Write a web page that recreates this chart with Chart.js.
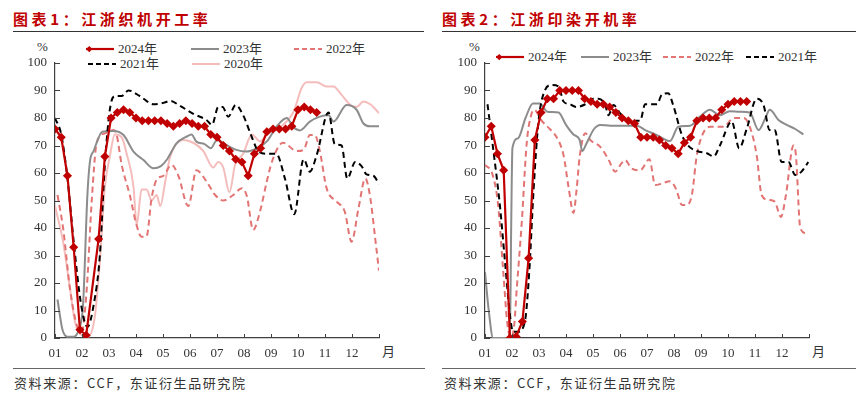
<!DOCTYPE html>
<html>
<head>
<meta charset="utf-8">
<script src="https://cdn.jsdelivr.net/npm/chart.js@4.4.0/dist/chart.umd.min.js"></script>
<style>
  body { margin: 0; width: 866px; height: 393px; background: #fff; position: relative; overflow: hidden; }
  .title { position: absolute; top: 8px; font: bold 15px "Noto Sans CJK SC", sans-serif; color: #c00000; letter-spacing: 3.6px; white-space: nowrap; }
  .rule { position: absolute; height: 0; border-top: 1.5px solid #333; }
  .src { position: absolute; top: 373px; font: 13px "Noto Sans CJK SC", sans-serif; color: #333; letter-spacing: 1.6px; white-space: nowrap; }
  .lab { position: absolute; font: 13px "Liberation Serif", "Noto Sans CJK SC", serif; color: #333; white-space: nowrap; line-height: 14px; }
  canvas { position: absolute; top: 40px; }
</style>
</head>
<body>
<div class="title" style="left:13px">图表1：江浙织机开工率</div>
<div class="title" style="left:442px">图表2：江浙印染开机率</div>
<div class="rule" style="left:13px; width:411px; top:31px"></div>
<div class="rule" style="left:442px; width:414px; top:31px"></div>
<div class="rule" style="left:13px; width:412px; top:368px; border-color:#666"></div>
<div class="rule" style="left:442px; width:414px; top:368px; border-color:#666"></div>
<div class="src" style="left:14px">资料来源：CCF，东证衍生品研究院</div>
<div class="src" style="left:444px">资料来源：CCF，东证衍生品研究院</div>
<div class="lab" style="left:37px; top:40px">%</div>
<div class="lab" style="left:469px; top:40px">%</div>
<div class="lab" style="left:382px; top:345px">月</div>
<div class="lab" style="left:812px; top:345px">月</div>
<div id="legends"></div>

<canvas id="loomChart" width="433" height="330" style="left:0; width:433px; height:330px"></canvas>
<canvas id="dyeChart" width="433" height="330" style="left:433px; width:433px; height:330px"></canvas>

<script>
// x axis: months, data stored by week number (52 weeks per year)
const monthLabels = ['01', '02', '03', '04', '05', '06', '07', '08', '09', '10', '11', '12'];
const seriesNames = ['2024年', '2023年', '2022年', '2021年', '2020年'];

// 图表1 江浙织机开工率 (%), 2024 is weekly, null = no data that week
const loom2024 = [76, 73, 59, 33, 3, 1, null, 36, 66, 80, 82, 83, 82, 80, 79, 79, 79, 79, 78, 77, 78, 79, 78, 77, 77,
  74, 73, 70, 68, 65, 64, 59, 67, 69, 75, 76, 76, 76, 77, 83, 84, 83, 82];
const loom2023 = [[0.4, 14], [1.2, 3], [2, 0.5], [3, 0.5], [3.8, 3], [4.5, 12], [5.2, 52], [5.6, 64], [6.2, 68], [7.6, 75],
  [9.4, 75.3], [11, 73.8], [12.6, 67.8], [14.2, 64.7], [15.8, 61.7], [17, 62.5], [18, 65], [19.5, 70.8], [21.1, 73.2],
  [21.9, 74], [22.7, 71.4], [24, 70.5], [25, 69], [26, 72], [27.5, 70.2], [29.1, 68.4], [30.7, 67.8], [32.4, 69],
  [34, 71.5], [35.6, 77], [37.2, 80], [38.2, 76.8], [39.3, 75.5], [40.9, 78.7], [42.5, 80.5], [43.9, 81], [44.7, 78.7],
  [46.8, 84.7], [48.4, 83], [49.5, 78], [50.5, 77], [52, 77]];
const loom2022 = [[0.4, 52], [1.3, 40], [2.4, 18], [3.5, 4.7], [4.3, 2.3], [5.1, 18], [5.9, 50], [6.7, 71], [8, 74.4],
  [9.4, 75.6], [9.9, 73.8], [10.7, 63], [12, 52], [13.1, 41], [13.9, 36.8], [14.7, 37], [15.5, 50.8], [16.3, 57.5],
  [17.4, 59], [18.7, 63], [19.8, 59], [21.4, 48], [22.7, 61], [24.3, 57], [25.7, 52], [27, 50], [28.6, 52], [30, 54.5],
  [30.8, 51.5], [31.8, 39.3], [32.9, 46], [34, 57], [34.8, 64], [36.6, 71], [38.8, 68], [39.9, 68.4], [40.9, 73.8],
  [41.7, 73.8], [42.5, 68], [43.6, 54.4], [45.2, 49.6], [46.5, 46], [47.6, 35], [48.7, 47], [49.8, 58], [50.6, 51],
  [51.4, 36], [52, 24.5]];
const loom2021 = [[0, 80], [1, 74], [2, 58], [3, 35], [4.2, 12], [5.2, 4], [6.2, 12], [7.2, 30], [8, 63], [8.8, 83],
  [9.6, 88], [10.7, 88], [11.8, 90], [13.6, 88], [15.8, 85], [17.4, 85.5], [18.5, 86.2], [20, 84.5], [22.2, 81.5],
  [24.3, 79.3], [25.2, 77.5], [26.2, 84], [26.9, 84], [27.8, 80.5], [29, 84.7], [30.2, 81], [31.6, 73], [32.6, 68],
  [34, 67], [35.5, 67], [36.9, 58], [38.4, 45], [39.9, 65], [40.9, 60.5], [42, 66.5], [43.9, 82], [44.9, 70.5],
  [46, 70], [46.9, 58], [48.2, 64], [49.2, 62.5], [50, 59.5], [51.1, 59], [52, 56]];
const loom2020 = [[0, 48], [1.3, 35], [2.4, 18], [3.2, 6], [4.3, 1], [5.3, 0.5], [6.4, 8], [7.2, 28], [8, 55], [8.8, 66],
  [9.6, 74], [10.7, 73], [11.5, 67], [12.6, 55], [13.1, 41], [13.9, 54], [14.7, 54], [15.5, 50], [16.3, 52], [16.9, 48],
  [17.7, 57], [18.5, 66], [20.6, 72], [22.2, 71], [23.8, 68], [25.4, 62], [26.2, 64], [27, 62], [28, 53], [28.9, 63],
  [30.2, 67], [31.6, 74], [32.9, 71.5], [34, 74], [35, 75.6], [36.6, 77.5], [38.3, 82.3], [39.6, 91], [40.4, 93],
  [42, 93], [43.6, 91.5], [44.7, 91.5], [46, 88.4], [47.4, 84.7], [48.4, 84], [49.5, 86], [50.6, 85], [51.5, 83],
  [52, 81.7]];

// 图表2 江浙印染开机率 (%)
const dye2024 = [73, 77, 67, 61, 0, 0.5, 6, 29, 72, 82, 87, 87, 90, 90, 90, 90, 87, 86, 85, 85, 84, 82, 80, 79, 78,
  73, 73, 73, 72, 70, 69, 67, 71, 73, 79, 80, 80, 80, 83, 85, 86, 86, 86];
const dye2023 = [[0, 24], [0.6, 10], [1.3, 0], [2.5, 0], [4, 0], [4.2, 40], [4.4, 69], [5.3, 72.6], [6.5, 80],
  [7.7, 85.3], [8.8, 85.3], [10, 82.3], [11.8, 82], [13, 77.5], [14.2, 74], [15.2, 72], [15.6, 68], [16.3, 70.8],
  [17.5, 76], [18.5, 77.5], [20.1, 77.2], [24.4, 77.2], [25.7, 75.6], [27.6, 73.8], [29.7, 71.6], [31, 76.8],
  [32.9, 77.2], [34.5, 80.5], [36.1, 83], [37.7, 81], [39.3, 82.5], [40.9, 82.3], [42.5, 82], [43.9, 75.6], [45, 80],
  [45.7, 83], [47.1, 79.3], [48.4, 77.5], [49.8, 76], [51.1, 74]];
const dye2022 = [[0, 63], [1.2, 59.5], [2.1, 48.5], [2.9, 25], [3.6, 5], [4.2, 0], [4.7, 5], [5.1, 18], [5.9, 42],
  [6.7, 71], [7.4, 81], [7.9, 83], [9.1, 79], [10.4, 76], [11.5, 73], [12.6, 66.5], [13.4, 55], [14.2, 45.5],
  [14.7, 54], [15.2, 66], [16.1, 74.5], [16.9, 72], [18.5, 69.5], [19.8, 65], [20.9, 60.5], [21.9, 63.5], [22.5, 64.7],
  [23.5, 61.7], [24.9, 61], [26.4, 65], [27.3, 55.6], [28.4, 56.2], [29.7, 57], [30.7, 54], [31.6, 48.4], [32.4, 48.4],
  [33.2, 52], [34, 66.5], [35, 74.4], [36.1, 76.8], [38.3, 76.8], [39.9, 80], [41.5, 80], [42.5, 76.8], [43.6, 66.5],
  [44.4, 52], [45.5, 50.2], [46.5, 49.6], [47.5, 44], [48.3, 52], [49.5, 70], [49.9, 66.5], [50.6, 40], [51.6, 38]];
const dye2021 = [[0.4, 85], [1.3, 69], [2.4, 48], [3.2, 28], [4, 8.4], [4.5, 2.3], [5.3, 2.3], [6.4, 6], [7.1, 24],
  [7.8, 54], [8.6, 79], [9.6, 90], [10.7, 92], [11.8, 91.5], [12.6, 86], [13.6, 85], [14.7, 84], [16.1, 85], [17.4, 87],
  [18.2, 87], [19.3, 84.7], [19.8, 81], [20.6, 84.7], [21.7, 81.7], [22.7, 79.3], [24.1, 79], [24.9, 79], [25.7, 85],
  [27.6, 85], [28.4, 88.6], [29.4, 89], [30.2, 84.7], [31.6, 73.8], [32.6, 70], [34, 68], [35.6, 67.2], [36.7, 66],
  [37.7, 70], [39.6, 78.7], [40.8, 69], [42, 76], [43.6, 87], [44.7, 84.7], [45.7, 75.6], [46.5, 75.6], [47.6, 64],
  [48.7, 64], [49.8, 59.3], [50.8, 60.5], [51.9, 64]];

const axisColor = '#404040';
const textColor = '#333';
const styles = {
  '2024年': { color: '#c00000', dash: [], width: 2.2, marker: true },
  '2023年': { color: '#8c8c8c', dash: [], width: 2 },
  '2022年': { color: '#e27474', dash: [6, 4], width: 2 },
  '2021年': { color: '#000000', dash: [6, 4], width: 2 },
  '2020年': { color: '#f5bcbc', dash: [], width: 2 }
};

const wk = w => w * 12 / 52;

function weekly(arr) {
  return arr.map((v, i) => ({ x: wk(i), y: v }));
}
function pairs(arr) {
  return arr.map(([w, v]) => ({ x: wk(w), y: v }));
}

function makeSet(name, points) {
  const s = styles[name];
  return {
    label: name,
    data: points,
    borderColor: s.color,
    backgroundColor: s.color,
    borderWidth: s.width,
    borderDash: s.dash,
    pointStyle: 'rectRot',
    pointRadius: s.marker ? 3 : 0,
    tension: s.marker ? 0 : 0.4,
    cubicInterpolationMode: s.marker ? 'default' : 'monotone',
    spanGaps: true,
    fill: false
  };
}

// tick marks point into the plot, like the reference
const innerTicks = {
  id: 'innerTicks',
  afterDraw(chart) {
    const { ctx, chartArea: a, scales: { x, y } } = chart;
    ctx.save();
    ctx.strokeStyle = axisColor;
    ctx.lineWidth = 1;
    ctx.beginPath();
    x.ticks.forEach((t, i) => {
      const px = Math.round(x.getPixelForTick(i)) + 0.5;
      ctx.moveTo(px, a.bottom);
      ctx.lineTo(px, a.bottom - 4);
    });
    y.ticks.forEach((t, i) => {
      const py = Math.round(y.getPixelForTick(i)) + 0.5;
      ctx.moveTo(a.left, py);
      ctx.lineTo(a.left + 5, py);
    });
    ctx.stroke();
    ctx.restore();
  }
};

function makeChart(id, datasets, yWidth, padRight) {
  const tickFont = { family: '"Liberation Serif", serif', size: 13 };
  return new Chart(document.getElementById(id), {
    type: 'line',
    data: { datasets: datasets },
    options: {
      responsive: false,
      animation: false,
      devicePixelRatio: 1,
      layout: { padding: { left: 0, top: 23, right: padRight, bottom: 0 } },
      plugins: { legend: { display: false }, tooltip: { enabled: false } },
      scales: {
        x: {
          type: 'linear', min: 0, max: 12,
          grid: { display: false, drawTicks: false },
          border: { color: axisColor, width: 1.2 },
          ticks: {
            stepSize: 1, autoSkip: false, maxRotation: 0, padding: 8,
            color: textColor, font: tickFont,
            callback: v => monthLabels[v] || ''
          },
          afterFit: s => { s.height = 32; }
        },
        y: {
          min: 0, max: 100,
          grid: { display: false, drawTicks: false },
          border: { color: axisColor, width: 1.2 },
          ticks: { stepSize: 10, padding: 8, color: textColor, font: tickFont },
          afterFit: s => { s.width = yWidth; }
        }
      }
    },
    plugins: [innerTicks]
  });
}

makeChart('loomChart', [
  makeSet('2024年', weekly(loom2024)),
  makeSet('2021年', pairs(loom2021)),
  makeSet('2023年', pairs(loom2023)),
  makeSet('2022年', pairs(loom2022)),
  makeSet('2020年', pairs(loom2020))
], 55, 54);

makeChart('dyeChart', [
  makeSet('2024年', weekly(dye2024)),
  makeSet('2021年', pairs(dye2021)),
  makeSet('2023年', pairs(dye2023)),
  makeSet('2022年', pairs(dye2022))
], 52, 57);

// legends (html, line samples in svg)
const legendSpots = [
  ['2024年', 85, 49], ['2023年', 190, 49], ['2022年', 293, 49], ['2021年', 87, 64], ['2020年', 191, 64],
  ['2024年', 495, 57], ['2023年', 580, 57], ['2022年', 662, 57], ['2021年', 745, 57]
];
const box = document.getElementById('legends');
for (const [name, x, y] of legendSpots) {
  const s = styles[name];
  const svg = `<svg width="30" height="10" style="position:absolute;left:${x}px;top:${y - 5}px">
    <line x1="1" y1="5" x2="29" y2="5" stroke="${s.color}" stroke-width="${s.width}" stroke-dasharray="${s.dash.length ? '5,3' : 'none'}"/>
    ${s.marker ? `<rect x="2" y="2" width="4.5" height="4.5" fill="${s.color}" transform="rotate(45 4.25 4.25) translate(0.6 0.6)"/>` : ''}
  </svg>`;
  box.insertAdjacentHTML('beforeend', svg);
  box.insertAdjacentHTML('beforeend', `<div class="lab" style="left:${x + 33}px;top:${y - 7}px">${name}</div>`);
}
</script>
</body>
</html>
